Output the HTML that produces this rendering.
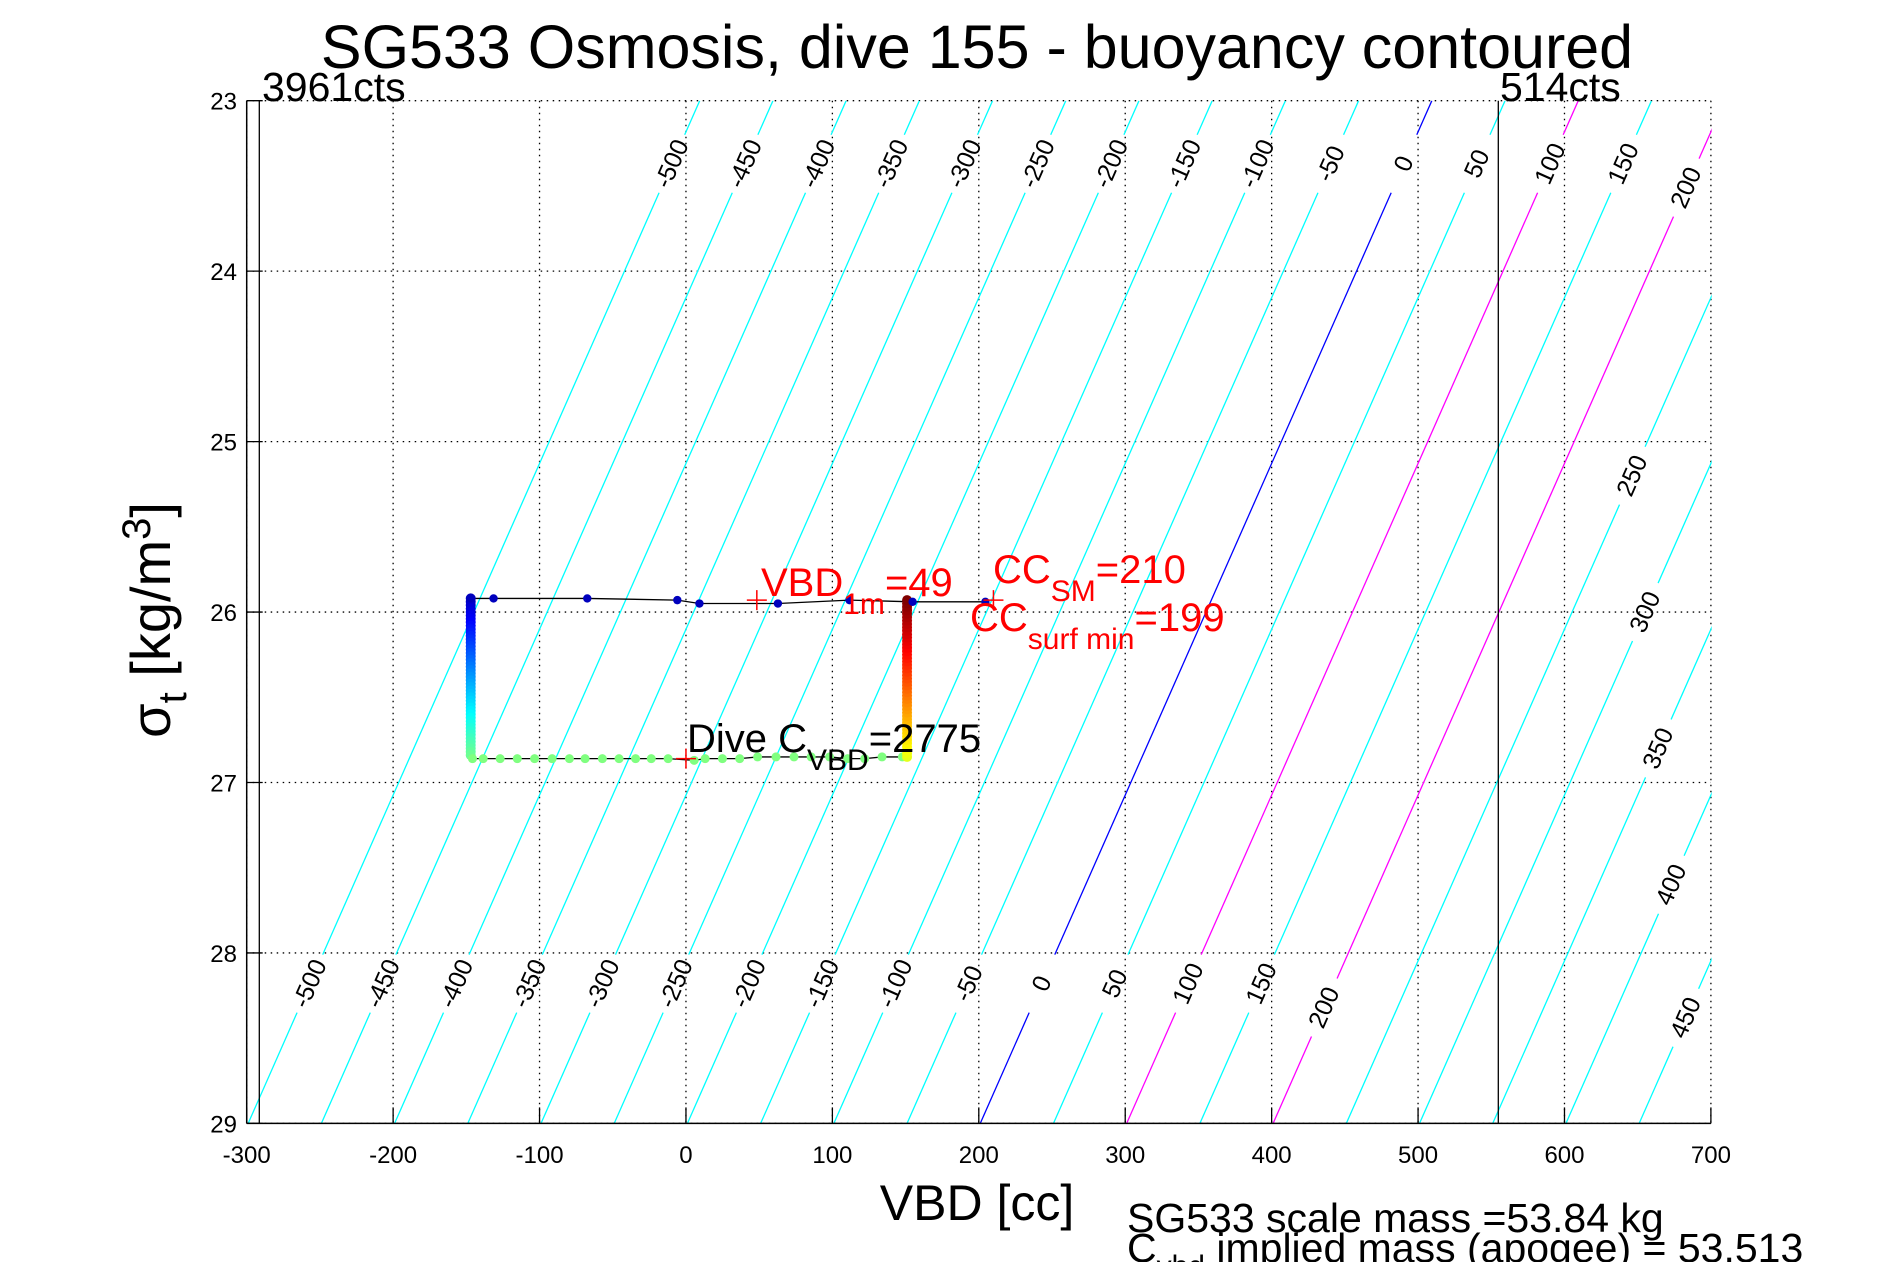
<!DOCTYPE html>
<html><head><meta charset="utf-8"><style>
html,body{margin:0;padding:0;background:#fff;}
svg{display:block;font-family:"Liberation Sans",sans-serif;}
</style></head><body>
<svg id="chart" width="1891" height="1262" viewBox="0 0 1891 1262">
<defs><clipPath id="plotclip"><rect x="246.7" y="100.7" width="1465" height="1022.7"/></clipPath></defs>
<text x="977" y="68" font-size="61" text-anchor="middle">SG533 Osmosis, dive 155 - buoyancy contoured</text>
<g id="grid"></g>
<g id="contours" clip-path="url(#plotclip)"></g>
<g id="contourLabels"></g>
<g id="axes"></g>
<g id="series"></g>
<text x="262" y="101" font-size="41">3961cts</text>
<text x="1500" y="101" font-size="41">514cts</text>
<text x="761" y="596" font-size="40" fill="#f00">VBD<tspan font-size="30" dy="18">1m</tspan><tspan dy="-18">=49</tspan></text>
<text x="993" y="583" font-size="40" fill="#f00">CC<tspan font-size="30" dy="18">SM</tspan><tspan dy="-18">=210</tspan></text>
<text x="970" y="631" font-size="40" fill="#f00">CC<tspan font-size="30" dy="18">surf min</tspan><tspan dy="-18">=199</tspan></text>
<text x="687" y="752" font-size="40" fill="#000">Dive C<tspan font-size="30" dy="18">VBD</tspan><tspan dy="-18">=2775</tspan></text>
<text x="977" y="1220" font-size="50" text-anchor="middle">VBD [cc]</text>
<text transform="translate(170,620) rotate(-90)" font-size="56" text-anchor="middle">σ<tspan font-size="40" dy="16">t</tspan><tspan dy="-16"> [kg/m</tspan><tspan font-size="40" dy="-20">3</tspan><tspan dy="20">]</tspan></text>
<text x="1127" y="1232" font-size="41">SG533 scale mass =53.84 kg</text>
<text x="1127" y="1262" font-size="41">C<tspan font-size="30" dy="14">vbd</tspan><tspan dy="-14"> implied mass (apogee) = 53.513</tspan></text>
</svg>
<script>
const xTicks = [-300,-200,-100,0,100,200,300,400,500,600,700];
const yTicks = [23,24,25,26,27,28,29];
const contourLevels = [-500,-450,-400,-350,-300,-250,-200,-150,-100,-50,0,50,100,150,200,250,300,350,400,450,500];
const topLabelLevels = [-500,-450,-400,-350,-300,-250,-200,-150,-100,-50,0,50,100,150,200];
const topLabelSigma = [23.37,23.37,23.37,23.37,23.37,23.37,23.37,23.37,23.37,23.37,23.37,23.37,23.37,23.37,23.51];
const rightLabelLevels = [250,300,350,400,450];
const rightLabelSigma = [25.2,26.0,26.8,27.6,28.38];
const bottomLabelLevels = [-500,-450,-400,-350,-300,-250,-200,-150,-100,-50,0,50,100,150,200];
const bottomLabelSigma = [28.18,28.18,28.18,28.18,28.18,28.18,28.18,28.18,28.18,28.18,28.18,28.18,28.18,28.18,28.32];
const topRowVbd = [-147,-131.4,-67.4,-5.9,9.2,62.8,111.7,154.8,204.5];
const topRowSigma = [25.92,25.92,25.92,25.93,25.95,25.95,25.93,25.94,25.94];
const leftColSigma = [25.92,25.94,25.96,25.98,26.0,26.02,26.04,26.06,26.08,26.1,26.12,26.14,26.16,26.18,26.2,26.22,26.24,26.26,26.28,26.3,26.32,26.34,26.36,26.38,26.4,26.42,26.44,26.46,26.48,26.5,26.52,26.54,26.56,26.58,26.6,26.62,26.64,26.66,26.68,26.7,26.72,26.74,26.76,26.78,26.8,26.82,26.84];
const leftColVbd = -147;
const greenRowVbd = [-145.8,-138.5,-126.9,-115.2,-103.4,-91.4,-79.6,-68.9,-57.1,-45.7,-34.4,-23.7,-12.2,5.6,13.1,24.9,36.7,48.9,61.5,73.8,85.5,98.1,110.4,122.1,133.9,147.8];
const greenRowSigma = [26.86,26.86,26.86,26.86,26.86,26.86,26.86,26.86,26.86,26.86,26.86,26.86,26.86,26.87,26.86,26.86,26.86,26.85,26.85,26.85,26.85,26.85,26.86,26.86,26.85,26.85];
const rightColSigma = [26.85,26.83,26.81,26.79,26.77,26.75,26.73,26.71,26.69,26.67,26.65,26.63,26.61,26.59,26.57,26.55,26.53,26.51,26.49,26.47,26.45,26.43,26.41,26.39,26.37,26.35,26.33,26.31,26.29,26.27,26.25,26.23,26.21,26.19,26.17,26.15,26.13,26.11,26.09,26.07,26.05,26.03,26.01,25.99,25.97,25.95,25.93];
const rightColVbd = 151;
const markerVbd = [48.4,0,210];
const markerSigma = [25.93,26.86,25.93];

const NS='http://www.w3.org/2000/svg';
const X0=246.7, XS=1.4642, Y0=100.7, YS=170.45;
function xs(v){return X0+(v+300)*XS;}
function ys(s){return Y0+(s-23)*YS;}
const CSLOPE=51.4;
function cv(b,s){return 201+1.0*b+CSLOPE*(29-s);}
function mk(tag,attrs,parent){const e=document.createElementNS(NS,tag);for(const k in attrs)e.setAttribute(k,attrs[k]);parent.appendChild(e);return e;}
function jet(t){
  function c(x){return Math.max(0,Math.min(1,x));}
  const r=c(1.5-Math.abs(4*t-3)), g=c(1.5-Math.abs(4*t-2)), b=c(1.5-Math.abs(4*t-1));
  return 'rgb('+Math.round(r*255)+','+Math.round(g*255)+','+Math.round(b*255)+')';
}
const grid=document.getElementById('grid');
const axes=document.getElementById('axes');
xTicks.forEach(v=>{
  const g=mk('line',{x1:xs(v),x2:xs(v),y1:ys(23),y2:ys(29),stroke:'#000','stroke-width':1.3,'stroke-dasharray':'1.5,4.5'},grid);
  
  
  const t=mk('line',{x1:xs(v),x2:xs(v),y1:ys(29),y2:ys(29)-16,stroke:'#000','stroke-width':1.3},axes);
  
  
  const l=mk('text',{x:xs(v),y:1163,'font-size':24,'text-anchor':'middle'},axes);
  l.textContent=v;
  
  
});
yTicks.forEach(s=>{
  const g=mk('line',{x1:xs(-300),x2:xs(700),y1:ys(s),y2:ys(s),stroke:'#000','stroke-width':1.3,'stroke-dasharray':'1.5,4.5'},grid);
  
  
  const t=mk('line',{x1:xs(-300),x2:xs(-300)+16,y1:ys(s),y2:ys(s),stroke:'#000','stroke-width':1.3},axes);
  
  
  const l=mk('text',{x:237,y:ys(s)+9,'font-size':24,'text-anchor':'end'},axes);
  l.textContent=s;
  
  
});
let a=mk('line',{x1:X0,x2:X0,y1:ys(23),y2:ys(29),stroke:'#000','stroke-width':1.5},axes);


a=mk('line',{x1:X0,x2:xs(700),y1:ys(29),y2:ys(29),stroke:'#000','stroke-width':1.5},axes);


a=mk('line',{x1:259.3,x2:259.3,y1:ys(23),y2:ys(29),stroke:'#000','stroke-width':1.3},axes);


a=mk('line',{x1:1498.3,x2:1498.3,y1:ys(23),y2:ys(29),stroke:'#000','stroke-width':1.3},axes);



const cg=document.getElementById('contours');
const lg=document.getElementById('contourLabels');
const gaps={};
function addGap(b,s){(gaps[b]=gaps[b]||[]).push(s);}
topLabelLevels.forEach((b,i)=>addGap(b,topLabelSigma[i]));
rightLabelLevels.forEach((b,i)=>addGap(b,rightLabelSigma[i]));
bottomLabelLevels.forEach((b,i)=>addGap(b,bottomLabelSigma[i]));
const GAP=0.17;
contourLevels.forEach(b=>{
  const col = b===0?'#0000ff':(b===100||b===200)?'#ff00ff':'#00ffff';
  const gs=(gaps[b]||[]).slice().sort((p,q)=>p-q);
  let segs=[]; let start=23;
  gs.forEach(s=>{segs.push([start,s-GAP]); start=s+GAP;});
  segs.push([start,29]);
  segs.forEach(sg=>{
    const ln=mk('line',{x1:xs(cv(b,sg[0])),y1:ys(sg[0]),x2:xs(cv(b,sg[1])),y2:ys(sg[1]),stroke:col,'stroke-width':1.3},cg);
    
    
  });
});
const ang=-(90-Math.atan(CSLOPE*XS/YS)*180/Math.PI);
function label(b,s){
  const x=xs(cv(b,s)), y=ys(s);
  const t=mk('text',{x:x,y:y+8,'font-size':25,'text-anchor':'middle',transform:'rotate('+ang+' '+x+' '+y+')'},lg);
  t.textContent=b;
  
  
}
topLabelLevels.forEach((b,i)=>label(b,topLabelSigma[i]));
rightLabelLevels.forEach((b,i)=>label(b,rightLabelSigma[i]));
bottomLabelLevels.forEach((b,i)=>label(b,bottomLabelSigma[i]));

const sr=document.getElementById('series');
let pl=mk('polyline',{points:topRowVbd.map((v,i)=>xs(v)+','+ys(topRowSigma[i])).join(' '),fill:'none',stroke:'#000','stroke-width':1.3},sr);


pl=mk('polyline',{points:greenRowVbd.map((v,i)=>xs(v)+','+ys(greenRowSigma[i])).join(' '),fill:'none',stroke:'#000','stroke-width':1.3},sr);


function dot(v,s,t,r){
  const c=mk('circle',{cx:xs(v),cy:ys(s),r:r,fill:jet(t)},sr);
  
  
}
const l0=leftColSigma[0], l1=leftColSigma[leftColSigma.length-1];
leftColSigma.forEach(s=>dot(leftColVbd,s,0.06+0.42*(s-l0)/(l1-l0),5));
greenRowVbd.forEach((v,i)=>dot(v,greenRowSigma[i],0.5,4.5));
rightColSigma.forEach((s,i)=>dot(rightColVbd,s,0.6+0.4*i/(rightColSigma.length-1),5));
topRowVbd.forEach((v,i)=>dot(v,topRowSigma[i],0.06,4.2));
markerVbd.forEach((v,i)=>{
  const x=xs(v),y=ys(markerSigma[i]);
  const p=mk('path',{d:'M'+(x-10)+','+y+'H'+(x+10)+'M'+x+','+(y-10)+'V'+(y+10),stroke:'#f00','stroke-width':1.5},sr);
  
  
});
</script>
</body></html>
